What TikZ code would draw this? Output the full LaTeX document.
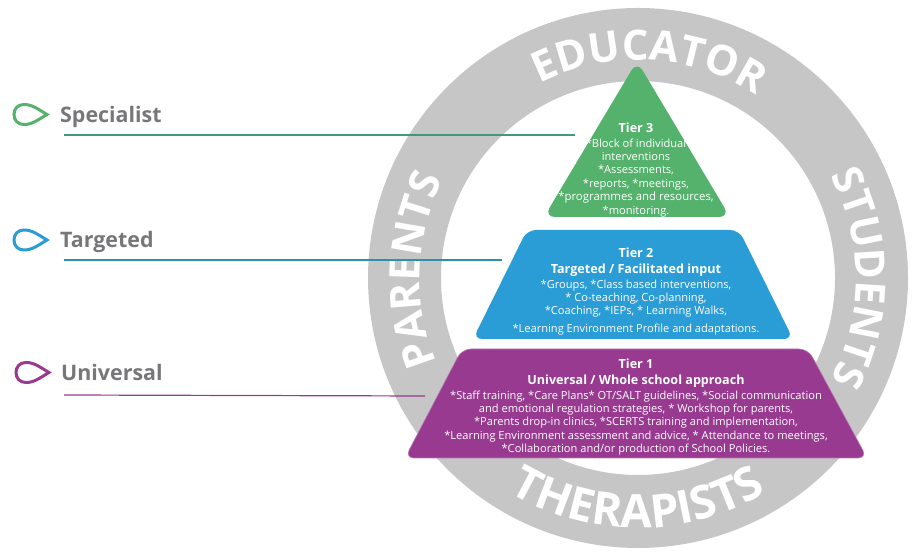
\documentclass[tikz,border=0pt]{standalone}
\usepackage{fontspec}
\setmainfont{Open Sans}
\usetikzlibrary{calc,decorations.text}

\definecolor{ringgrey}{HTML}{C6C6C6}
\definecolor{labelgrey}{HTML}{77777A}
\definecolor{tiergreen}{HTML}{54B26C}
\definecolor{tierblue}{HTML}{2A9CD6}
\definecolor{tierpurple}{HTML}{983A90}
\definecolor{linegreen}{HTML}{3F9A78}
\definecolor{lineblue}{HTML}{2F8FAE}

\tikzset{
  tierlabel/.style={anchor=west,text=labelgrey,font=\fontsize{21.4}{24}\selectfont\bfseries,inner sep=0pt},
  tiertext/.style={text=white,align=center,inner sep=0pt,anchor=north,font=\fontsize{11.1}{13.4}\selectfont},
  ringtext/.style 2 args={decorate,decoration={text along path,text align=center,text color=white,text={|\fontsize{#1}{#1}\selectfont\bfseries|#2}}},
  droplet/.pic={
    \draw[line width=3pt,pic actions] (23,0) .. controls (13,6) and (8,10) .. (0,10)
      .. controls (-6,10) and (-10,6) .. (-10,0) .. controls (-10,-6) and (-6,-10) .. (0,-10)
      .. controls (8,-10) and (13,-6) .. (23,0) -- cycle;
  }
}

\begin{document}
\begin{tikzpicture}[x=1pt,y=1pt]
  \useasboundingbox (0,0) rectangle (920,559);
  \coordinate (hub) at (638,281);

  % ring
  \draw[ringgrey,line width=73pt] (hub) circle (233.5);
  \path[ringtext={42}{EDUCATOR}] ($(hub)+(150:218)$) arc (150:24:218);
  \path[ringtext={41.5}{STUDENTS}] ($(hub)+(60:218)$) arc (60:-60:218);
  \path[ringtext={42}{PARENTS}] ($(hub)+(238:218)$) arc (238:118:218);
  \path[ringtext={46}{THERAPISTS}] ($(hub)+(210:250)$) arc (210:330:250);

  % tiers
  \fill[tiergreen,rounded corners=11pt] (637,498) -- (730,342) -- (544,342) -- cycle;
  \fill[tierblue,rounded corners=9pt] (527,329) -- (739,329) -- (793,220) -- (473,220) -- cycle;
  \filldraw[fill=tierpurple,draw=tierpurple!70!white,line width=.6pt,rounded corners=9pt] (462,210) -- (808,210) -- (867,101) -- (405,101) -- cycle;

  \node[tiertext] (tier3) at (636,436) {\textbf{\fontsize{12.6}{14}\selectfont Tier 3}\\[1pt]{}*Block of individual\\interventions\\{}*Assessments,\\{}*reports, *meetings,\\{}\fontsize{11.4}{13.4}\selectfont*programmes and resources,\\{}*monitoring.};
  \node[tiertext] (tier2) at (636,311) {\textbf{\fontsize{12.6}{16}\selectfont Tier 2}\\[2.5pt]\textbf{\fontsize{12.6}{16}\selectfont Targeted / Facilitated input}\\[1pt]{}*Groups, *Class based interventions,\\{}* Co-teaching, Co-planning,\\{}*Coaching, *IEPs, * Learning Walks,\\[4pt]{}*Learning Environment Profile and adaptations.};
  \node[tiertext] (tier1) at (636,200) {\textbf{\fontsize{12.6}{16}\selectfont Tier 1}\\[2.5pt]\textbf{\fontsize{12.6}{16}\selectfont Universal / Whole school approach}\\[1pt]{}*Staff training, *Care Plans* OT/SALT guidelines, *Social communication\\and emotional regulation strategies, * Workshop for parents,\\{}*Parents drop-in clinics, *SCERTS training and implementation,\\{}*Learning Environment assessment and advice, * Attendance to meetings,\\{}*Collaboration and/or production of School Policies.};

  % labels on the left
  \pic[tiergreen] at (24,444.5) {droplet};
  \pic[tierblue] at (24,319) {droplet};
  \pic[tierpurple] at (26,186.5) {droplet};
  \node[tierlabel] (specialist) at (60,442) {Specialist};
  \node[tierlabel] (targeted) at (60,317) {Targeted};
  \node[tierlabel] (universal) at (61,187) {Universal};

  \coordinate (specialistA) at (64,424);
  \coordinate (specialistB) at (575,424);
  \coordinate (targetedA) at (64,299);
  \coordinate (targetedB) at (502,299);
  \coordinate (universalA) at (64,164);
  \coordinate (universalB) at (425,163);
  \draw[linegreen,line width=1.2pt] (specialistA) -- (specialistB);
  \draw[lineblue,line width=1.2pt] (targetedA) -- (targetedB);
  \draw[tierpurple,line width=1.2pt] (universalA) -- (universalB);
\end{tikzpicture}
\end{document}
